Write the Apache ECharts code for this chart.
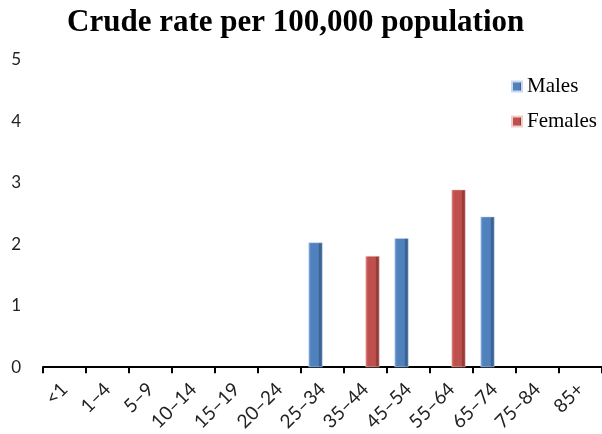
<!DOCTYPE html>
<html>
<head>
<meta charset="utf-8">
<script src="https://cdn.jsdelivr.net/npm/echarts@6/dist/echarts.min.js"></script>
<style>
html, body { margin: 0; padding: 0; background: #fff; }
#chart { width: 602px; height: 434px; }
</style>
</head>
<body>
<div id="chart"></div>
<script>
var ageGroups = ['<1', '1–4', '5–9', '10–14', '15–19', '20–24', '25–34', '35–44', '45–54', '55–64', '65–74', '75–84', '85+'];
var males = [null, null, null, null, null, null, 2.03, null, 2.1, null, 2.45, null, null];
var females = [null, null, null, null, null, null, null, 1.81, null, 2.89, null, null, null];
var yTicks = [0, 1, 2, 3, 4, 5];

function bevel(light, base, dark) {
    return new echarts.graphic.LinearGradient(0, 0, 1, 0, [
        { offset: 0, color: light },
        { offset: 0.18, color: base },
        { offset: 0.7, color: base },
        { offset: 0.78, color: dark },
        { offset: 1, color: dark }
    ]);
}

var chart = echarts.init(document.getElementById('chart'));
var option = {
    animation: false,
    title: {
        text: 'Crude rate per 100,000 population',
        left: 62,
        top: 2,
        textStyle: {
            fontFamily: 'Liberation Serif',
            fontWeight: 'bold',
            fontSize: 31,
            color: '#000'
        }
    },
    legend: {
        orient: 'vertical',
        left: 506,
        top: 71,
        itemWidth: 10,
        itemHeight: 10,
        itemGap: 14,
        icon: 'rect',
        data: ['Males', 'Females'],
        textStyle: {
            fontFamily: 'Liberation Serif',
            fontSize: 21,
            color: '#000'
        }
    },
    grid: {
        left: 43,
        right: 0,
        top: 60,
        bottom: 64,
        containLabel: false
    },
    xAxis: {
        type: 'category',
        data: ageGroups,
        boundaryGap: true,
        axisLine: { lineStyle: { color: '#000', width: 2 } },
        axisTick: { show: true, length: 6, lineStyle: { color: '#000', width: 2 } },
        axisLabel: {
            rotate: 45,
            interval: 0,
            margin: 19,
            fontFamily: 'Lato',
            fontSize: 19,
            color: '#222'
        },
        splitLine: { show: false }
    },
    yAxis: {
        type: 'value',
        min: yTicks[0],
        max: yTicks[yTicks.length - 1],
        interval: 1,
        axisLine: { show: false },
        axisTick: { show: false },
        splitLine: { show: false },
        axisLabel: {
            margin: 22,
            fontFamily: 'Lato',
            fontSize: 17,
            color: '#222'
        }
    },
    series: [
        {
            name: 'Males',
            type: 'bar',
            data: males,
            barWidth: 14,
            barGap: '0%',
            itemStyle: {
                color: bevel('#7aa6dc', '#4f81bd', '#3b6495'),
                borderColor: '#c9d9ee',
                borderWidth: 0.5
            }
        },
        {
            name: 'Females',
            type: 'bar',
            data: females,
            barWidth: 14,
            barGap: '0%',
            itemStyle: {
                color: bevel('#d97a77', '#c0504d', '#983c3a'),
                borderColor: '#efcfce',
                borderWidth: 0.5
            }
        }
    ]
};
chart.setOption(option);
</script>
</body>
</html>
